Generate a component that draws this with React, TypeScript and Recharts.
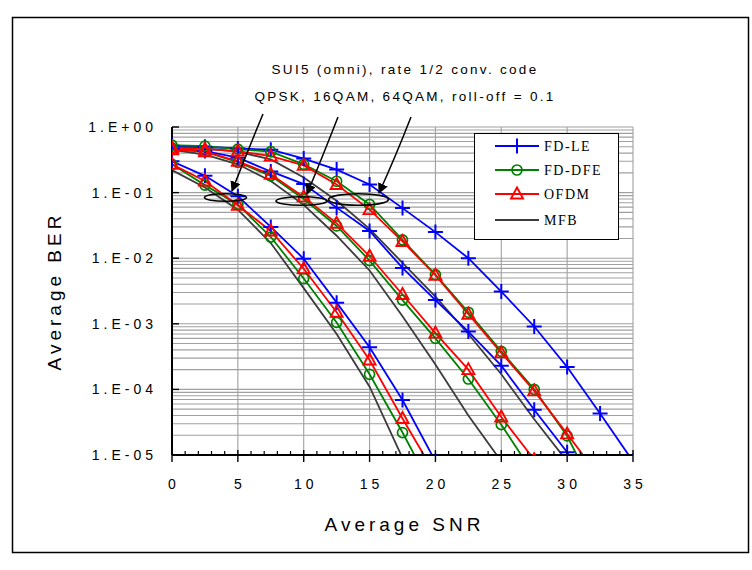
import { CartesianGrid, Label, Legend, Line, LineChart, XAxis, YAxis } from 'recharts'

// SNR sample points (dB), shared by all curves
const SNR = [0, 2.5, 5, 7.5, 10, 12.5, 15, 17.5, 20, 22.5, 25, 27.5, 30, 32.5, 35]

// QPSK
const QPSK_LE = [0.3, 0.18, 0.088, 0.03, 0.0098, 0.0021, 4.4e-4, 6.9e-5, 8e-6]
const QPSK_DFE = [0.27, 0.13, 0.066, 0.021, 0.0049, 0.00105, 1.7e-4, 2.2e-5, 2.5e-6]
const QPSK_OFDM = [0.27, 0.15, 0.064, 0.026, 0.0069, 0.0015, 2.8e-4, 3.6e-5, 5e-6]
const QPSK_MFB = [0.22, 0.12, 0.055, 0.017, 0.0035, 7e-4, 1.1e-4, 9e-6]

// 16QAM
const QAM16_LE = [0.47, 0.43, 0.34, 0.21, 0.135, 0.059, 0.026, 0.0071, 0.0023, 7.6e-4, 2.3e-4, 4.9e-5, 1.1e-5, 1.5e-6]
const QAM16_DFE = [0.48, 0.42, 0.29, 0.18, 0.08, 0.031, 0.0092, 0.0023, 6e-4, 1.44e-4, 2.9e-5, 5e-6]
const QAM16_OFDM = [0.45, 0.42, 0.3, 0.19, 0.086, 0.034, 0.0107, 0.0028, 7.2e-4, 2e-4, 3.8e-5, 8.5e-6]
const QAM16_MFB = [0.45, 0.38, 0.27, 0.15, 0.065, 0.022, 0.0065, 0.0013, 2.4e-4, 4e-5, 8e-6]

// 64QAM
const QAM64_LE = [0.52, 0.5, 0.47, 0.45, 0.33, 0.224, 0.133, 0.058, 0.025, 0.01, 0.0031, 9.1e-4, 2.2e-4, 4.3e-5, 8e-6]
const QAM64_DFE = [0.53, 0.51, 0.46, 0.42, 0.27, 0.149, 0.066, 0.019, 0.0056, 0.0015, 3.8e-4, 1e-4, 1.95e-5, 2e-6]
const QAM64_OFDM = [0.48, 0.46, 0.43, 0.36, 0.26, 0.133, 0.055, 0.018, 0.0055, 0.0014, 3.6e-4, 9.5e-5, 2.1e-5, 4.5e-6]
const QAM64_MFB = [0.5, 0.47, 0.42, 0.32, 0.17, 0.075, 0.028, 0.0085, 0.0026, 7e-4, 1.7e-4, 3.5e-5, 8e-6]

const BER_TICKS = [1e-5, 1e-4, 1e-3, 1e-2, 1e-1, 1]
const BER_TICK_LABELS = ['1.E-05', '1.E-04', '1.E-03', '1.E-02', '1.E-01', '1.E+00']
const SNR_TICKS = Array.from({ length: 36 }, (_, i) => i)
const SNR_GRID = [5, 10, 15, 20, 25, 30, 35]
const BER_GRID = [1e-5, 1e-4, 1e-3, 1e-2, 1e-1].flatMap((d) => [1, 2, 3, 4, 5, 6, 7, 8, 9].map((m) => m * d)).concat([1])

const SANS = '"Liberation Sans", Arial, sans-serif'
const SERIF = '"Liberation Serif", "Times New Roman", serif'

const BLUE = '#0000ff'
const GREEN = '#008000'
const RED = '#ff0000'
const GREY = '#3c3c3c'

const PlusDot = (p: any) => {
  const { cx, cy, index } = p
  if (cx == null || cy == null) return null
  return (
    <path key={index} d={`M${cx - 7.5},${cy}H${cx + 7.5}M${cx},${cy - 7.5}V${cy + 7.5}`} stroke={BLUE} strokeWidth={2} fill="none" />
  )
}

const CircleDot = (p: any) => {
  const { cx, cy, index } = p
  if (cx == null || cy == null) return null
  return <circle key={index} cx={cx} cy={cy} r={5} stroke={GREEN} strokeWidth={1.7} fill="none" />
}

const TriangleDot = (p: any) => {
  const { cx, cy, index } = p
  if (cx == null || cy == null) return null
  return (
    <path key={index} d={`M${cx},${cy - 6.5}L${cx + 6},${cy + 4.5}L${cx - 6},${cy + 4.5}Z`} stroke={RED} strokeWidth={1.9} fill="none" />
  )
}

const KINDS = [
  { name: 'FD-LE', color: BLUE, dot: PlusDot },
  { name: 'FD-DFE', color: GREEN, dot: CircleDot },
  { name: 'OFDM', color: RED, dot: TriangleDot },
  { name: 'MFB', color: GREY, dot: null },
]

// draw order: MFB under, then FD-LE, FD-DFE, OFDM on top
const SERIES = [
  { key: 'qpskMfb', values: QPSK_MFB, kind: 3 },
  { key: 'qam16Mfb', values: QAM16_MFB, kind: 3 },
  { key: 'qam64Mfb', values: QAM64_MFB, kind: 3 },
  { key: 'qpskLe', values: QPSK_LE, kind: 0 },
  { key: 'qam16Le', values: QAM16_LE, kind: 0 },
  { key: 'qam64Le', values: QAM64_LE, kind: 0 },
  { key: 'qpskDfe', values: QPSK_DFE, kind: 1 },
  { key: 'qam16Dfe', values: QAM16_DFE, kind: 1 },
  { key: 'qam64Dfe', values: QAM64_DFE, kind: 1 },
  { key: 'qpskOfdm', values: QPSK_OFDM, kind: 2 },
  { key: 'qam16Ofdm', values: QAM16_OFDM, kind: 2 },
  { key: 'qam64Ofdm', values: QAM64_OFDM, kind: 2 },
]

const data = SNR.map((snr, i) => {
  const row: Record<string, number | null> = { snr }
  SERIES.forEach((s) => {
    row[s.key] = i < s.values.length ? s.values[i] : null
  })
  return row
})

const SnrTick = (p: any) => {
  const { x, y, payload } = p
  const v = payload.value
  if (v % 5 !== 0) {
    return <line x1={x} x2={x} y1={y - 4} y2={y} stroke="#000" strokeWidth={1.2} />
  }
  return (
    <g>
      <line x1={x} x2={x} y1={y - 5} y2={y + 7} stroke="#000" strokeWidth={1.4} />
      <text x={x + 2} y={y + 34} textAnchor="middle" fontFamily={SANS} fontSize={14} style={{ letterSpacing: 4 }} fill="#000">
        {v}
      </text>
    </g>
  )
}

const BerTick = (p: any) => {
  const { x, y, payload } = p
  const i = BER_TICKS.findIndex((t) => Math.abs(Math.log10(t) - Math.log10(payload.value)) < 1e-6)
  return (
    <g>
      <line x1={x} x2={x + 7} y1={y} y2={y} stroke="#000" strokeWidth={1.4} />
      <text x={x - 15} y={y + 5} textAnchor="end" fontFamily={SANS} fontSize={14} style={{ letterSpacing: 4 }} fill="#000">
        {BER_TICK_LABELS[i]}
      </text>
    </g>
  )
}

const YTitle = (p: any) => {
  const vb = p.viewBox
  const x = vb.x + 42
  const y = vb.y + vb.height / 2
  return (
    <text x={x} y={y} transform={`rotate(-90 ${x} ${y})`} textAnchor="middle" dominantBaseline="central" fontFamily={SANS} fontSize={19} style={{ letterSpacing: 4 }} fill="#000">
      Average BER
    </text>
  )
}

const XTitle = (p: any) => {
  const vb = p.viewBox
  return (
    <text x={vb.x + vb.width / 2 + 2} y={vb.y + 76} textAnchor="middle" fontFamily={SANS} fontSize={19} style={{ letterSpacing: 4 }} fill="#000">
      Average SNR
    </text>
  )
}

const LEG_Y = [12, 36, 60, 86]

const LegendBox = () => (
  <div style={{ width: 145, height: 107, border: '1.5px solid #000', background: '#fff', boxSizing: 'border-box' }}>
    <svg width={142} height={104} style={{ display: 'block' }}>
      {KINDS.map((k, i) => {
        const y = LEG_Y[i]
        const Dot = k.dot
        return (
          <g key={k.name}>
            <line x1={20} x2={64} y1={y} y2={y} stroke={k.color} strokeWidth={1.8} />
            {Dot && <Dot cx={42} cy={y} index={i} />}
            <text x={69} y={y + 5} fontFamily={SERIF} fontSize={14} style={{ letterSpacing: 1.5 }} fill="#000">
              {k.name}
            </text>
          </g>
        )
      })}
    </svg>
  </div>
)

const Annotations = () => (
  <svg width={752} height={570} style={{ position: 'absolute', left: 0, top: 0, pointerEvents: 'none' }}>
    <defs>
      <marker id="arrow" viewBox="0 0 10 10" refX="9" refY="5" markerWidth="7" markerHeight="7" orient="auto">
        <path d="M0,0L10,5L0,10Z" fill="#000" />
      </marker>
    </defs>
    <rect x={12.5} y={17.5} width={736} height={535} fill="none" stroke="#000" strokeWidth={1.5} />
    <text x={405} y={74} textAnchor="middle" fontFamily={SANS} fontSize={13.5} style={{ letterSpacing: 2.3 }} fill="#000">
      SUI5 (omni), rate 1/2 conv. code
    </text>
    <text x={405} y={101} textAnchor="middle" fontFamily={SANS} fontSize={13.5} style={{ letterSpacing: 2.3 }} fill="#000">
      QPSK, 16QAM, 64QAM, roll-off = 0.1
    </text>
    <path d="M263,114 Q248,150 232,191" fill="none" stroke="#000" strokeWidth={1.5} markerEnd="url(#arrow)" />
    <path d="M338,117 Q322,158 307,194" fill="none" stroke="#000" strokeWidth={1.5} markerEnd="url(#arrow)" />
    <path d="M411,117 Q395,158 379,193" fill="none" stroke="#000" strokeWidth={1.5} markerEnd="url(#arrow)" />
    <ellipse cx={225.5} cy={197.5} rx={21} ry={3.8} fill="none" stroke="#000" strokeWidth={1.6} />
    <ellipse cx={301.5} cy={201} rx={25.5} ry={4.3} fill="none" stroke="#000" strokeWidth={1.6} />
    <ellipse cx={358.5} cy={199.5} rx={30} ry={5.8} fill="none" stroke="#000" strokeWidth={1.6} />
  </svg>
)

export default function App() {
  return (
    <div style={{ position: 'absolute', left: 0, top: 0, width: 752, height: 570, background: '#fff' }}>
      <LineChart width={752} height={570} data={data} margin={{ top: 127, right: 119, bottom: 65, left: 12 }}>
        <XAxis xAxisId="grid" type="number" dataKey="snr" domain={[0, 35]} ticks={SNR_GRID} interval={0} hide allowDataOverflow />
        <YAxis yAxisId="grid" type="number" scale="log" domain={[1e-5, 1]} ticks={BER_GRID} interval={0} hide allowDataOverflow />
        <CartesianGrid xAxisId="grid" yAxisId="grid" stroke="#a0a0a0" strokeWidth={1.1} />
        <XAxis
          type="number"
          dataKey="snr"
          domain={[0, 35]}
          ticks={SNR_TICKS}
          interval={0}
          allowDataOverflow
          tickSize={0}
          tickMargin={0}
          tickLine={false}
          tick={<SnrTick />}
          axisLine={{ stroke: '#000', strokeWidth: 2 }}
          height={50}
        >
          <Label content={XTitle} />
        </XAxis>
        <YAxis
          type="number"
          scale="log"
          domain={[1e-5, 1]}
          allowDataOverflow
          ticks={BER_TICKS}
          interval={0}
          tickSize={0}
          tickMargin={0}
          tickLine={false}
          tick={<BerTick />}
          axisLine={{ stroke: '#000', strokeWidth: 2 }}
          width={160}
        >
          <Label content={YTitle} />
        </YAxis>
        {SERIES.map((s) => {
          const k = KINDS[s.kind]
          return (
            <Line
              key={s.key}
              dataKey={s.key}
              stroke={k.color}
              strokeWidth={1.8}
              dot={k.dot ? k.dot : false}
              activeDot={false}
              isAnimationActive={false}
              legendType="none"
            />
          )
        })}
        <Legend
          layout="vertical"
          align="center"
          verticalAlign="middle"
          content={<LegendBox />}
          wrapperStyle={{ left: 474, top: 133, width: 145, height: 107 }}
        />
      </LineChart>
      <Annotations />
    </div>
  )
}
